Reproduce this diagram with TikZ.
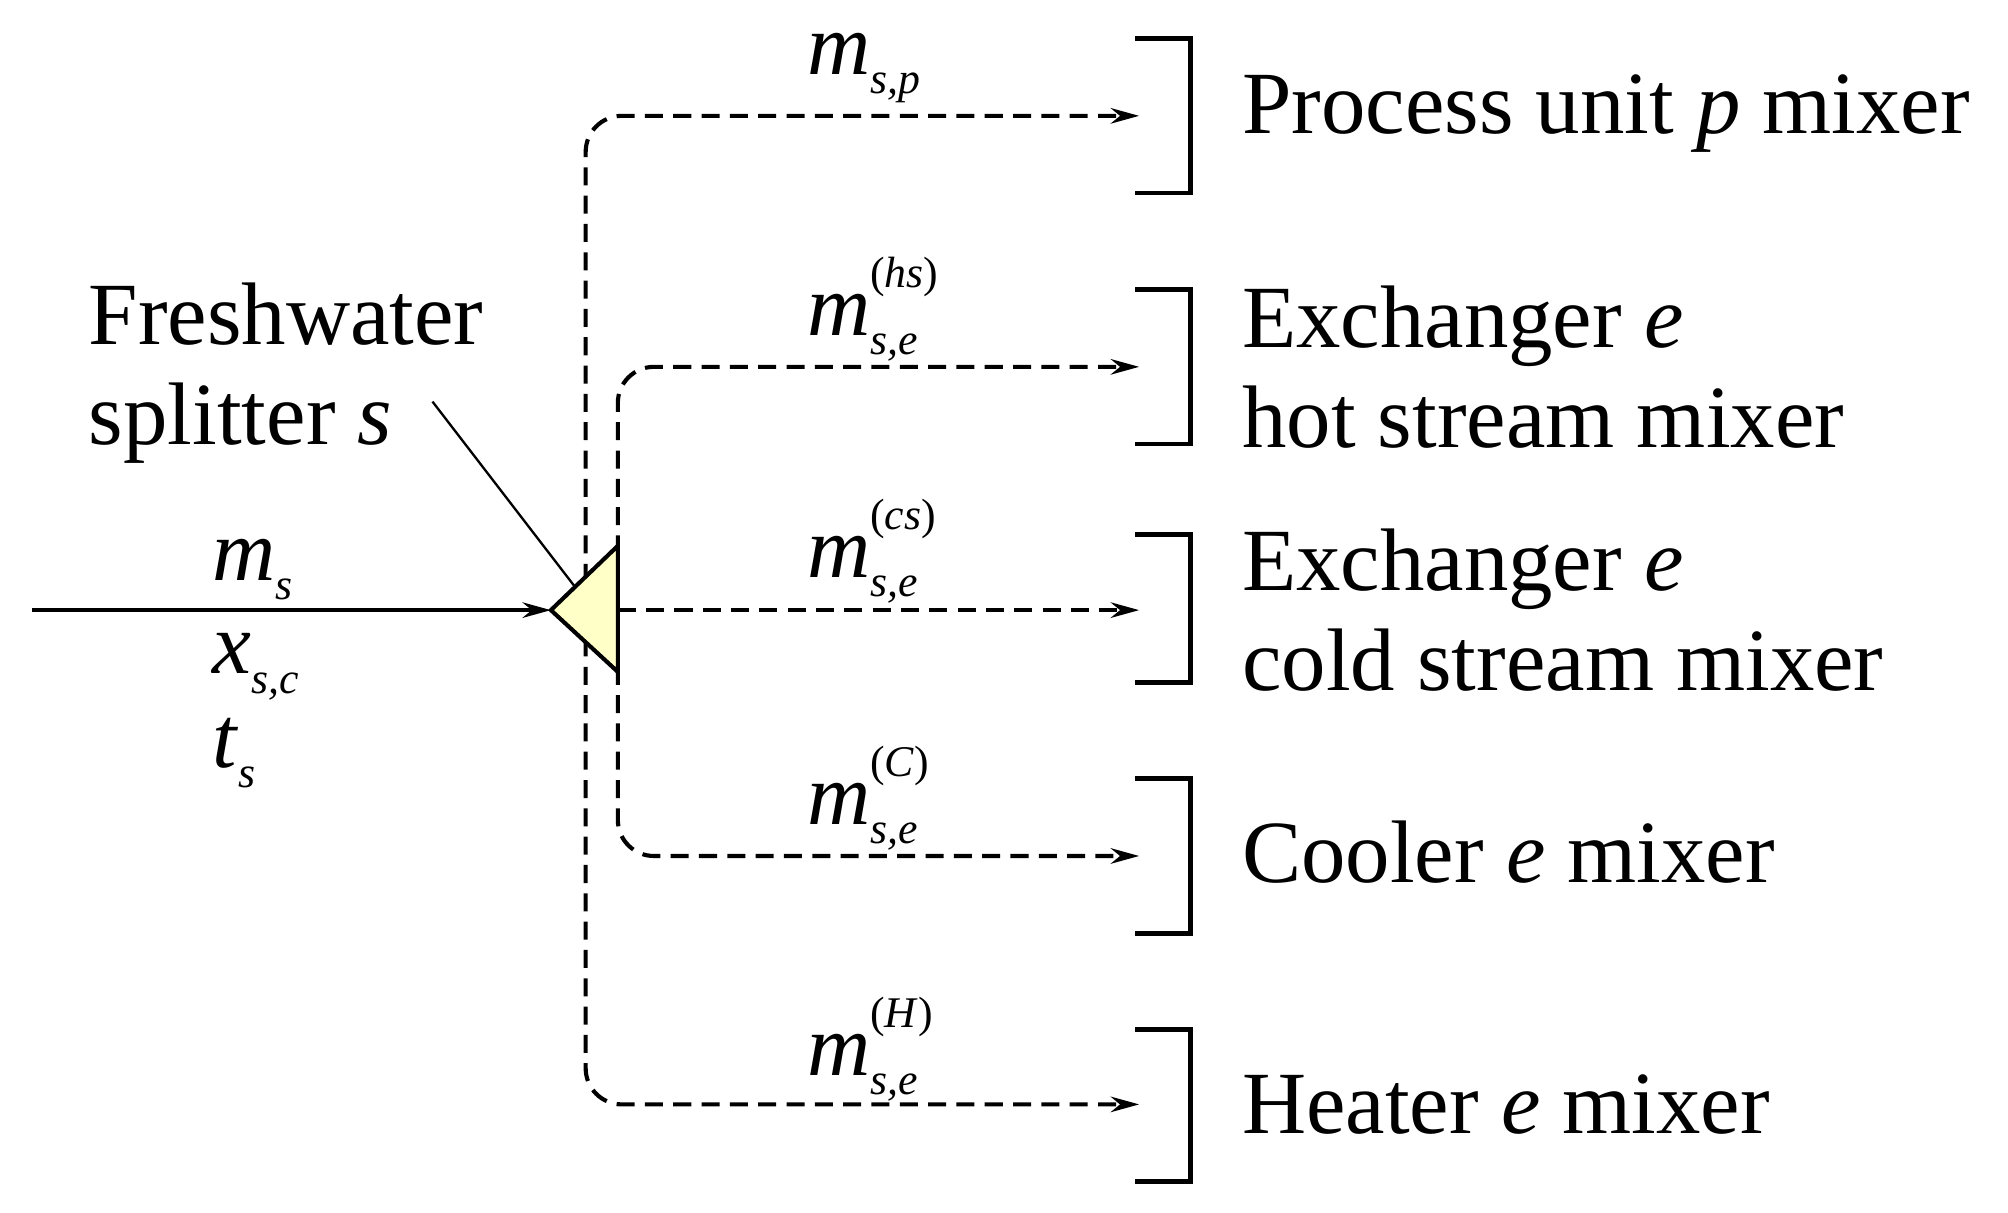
\documentclass[tikz,border=0pt]{standalone}
\usepackage{fontspec}
\setmainfont{Liberation Serif}
\usetikzlibrary{arrows.meta}
\newcommand{\mvar}[3]{\textit{#1}\rlap{\raisebox{-0.22em}{\fontsize{17}{18}\selectfont\textit{#2}}}\raisebox{0.55em}{\fontsize{17}{18}\selectfont #3}}
\begin{document}
\begin{tikzpicture}[x=0.5pt,y=-0.5pt,
  flow/.style={line width=1.6pt,dash pattern=on 7pt off 4pt,rounded corners=14pt,-{Stealth[length=11pt,width=6pt]}},
  brk/.style={line width=1.8pt},
  lab/.style={font=\fontsize{34.5}{39}\selectfont,anchor=west,align=left},
  var/.style={font=\fontsize{34}{38}\selectfont,anchor=west}]
\useasboundingbox (0,0) rectangle (1560,942);
\coordinate (in) at (25,474);
\coordinate (tri) at (428,474);
\draw[line width=1.6pt,-{Stealth[length=11pt,width=6pt]}] (in) -- (tri);
\coordinate (e1) at (885,90);
\coordinate (e2) at (885,285);
\coordinate (e3) at (885,474);
\coordinate (e4) at (885,665);
\coordinate (e5) at (885,858);
\draw[flow] (455,474) |- (e1);
\draw[flow] (455,474) |- (e5);
\draw[flow] (480,474) |- (e2);
\draw[flow] (480,474) |- (e4);
\draw[flow] (480,474) -- (e3);
\draw[line width=1.6pt,fill={rgb,255:red,255;green,255;blue,200}] (428,474) -- (480,424) -- (480,522) -- cycle;
\node[lab] (f) at (62,290) {Freshwater\\splitter \textit{s}};
\coordinate (lp) at (336,312);
\draw[line width=0.9pt] (lp) -- (446,455);
\node[var] (ms) at (158,440) {\mvar{m}{s}{}};
\node[var] (xs) at (158,515) {\mvar{x}{s,c}{}};
\node[var] (ts) at (158,585) {\mvar{t}{s}{}};
\node[var] (l1) at (620,50) {\mvar{m}{s,p}{}};
\node[var] (l2) at (620,240) {\mvar{m}{s,e}{(\textit{hs})}};
\node[var] (l3) at (620,428) {\mvar{m}{s,e}{(\textit{cs})}};
\node[var] (l4) at (620,620) {\mvar{m}{s,e}{(\textit{C})}};
\node[var] (l5) at (620,815) {\mvar{m}{s,e}{(\textit{H})}};
\foreach \t/\b in {30/150,225/345,415/530,605/725,800/918}{
  \draw[brk] (882,\t) -- (925,\t) -- (925,\b) -- (882,\b);}
\node[lab] (t1) at (958,88) {Process unit \textit{p} mixer};
\node[lab] (t2) at (958,285) {Exchanger \textit{e}\\hot stream mixer};
\node[lab] (t3) at (958,474) {Exchanger \textit{e}\\cold stream mixer};
\node[lab] (t4) at (958,662) {Cooler \textit{e} mixer};
\node[lab] (t5) at (958,858) {Heater \textit{e} mixer};
\end{tikzpicture}
\end{document}
